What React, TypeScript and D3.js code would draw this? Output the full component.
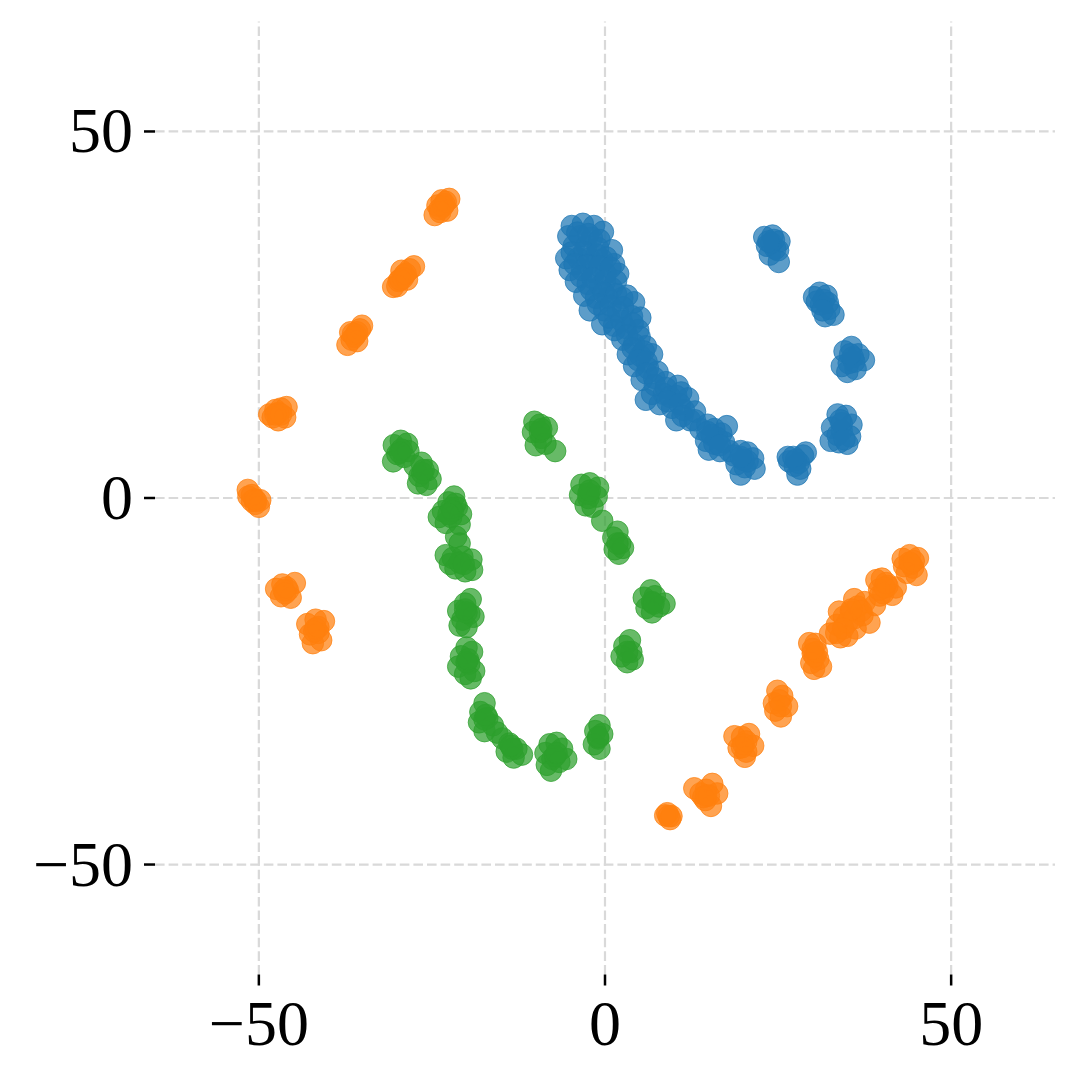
import React from "react";
import * as d3 from "d3";

// point positions (data units)
const bluePoints: [number, number][] = [
  [-4.8, 37.1], [-3.2, 37.4], [-1.6, 37.1], [-0.3, 36.3], [-5.3, 35.7], [-3.6, 35.7], [-1.9, 35.5],
  [-4.5, 34.4], [-2.7, 34.4], [-1.0, 34.1], [1.0, 33.8], [-5.6, 32.7], [-3.9, 32.7], [-2.2, 32.7],
  [-0.4, 32.5], [1.3, 31.9], [-5.1, 31.1], [-3.3, 31.1], [-1.6, 30.8], [0.1, 30.6], [1.9, 30.6],
  [-4.2, 29.5], [-2.5, 29.2], [-0.7, 28.9], [1.0, 28.6], [-3.0, 27.6], [-1.3, 27.3], [0.4, 27.3],
  [2.5, 27.3], [4.2, 26.7], [-2.2, 25.6], [-0.1, 25.6], [1.9, 25.4], [3.9, 24.8], [5.1, 24.6],
  [-0.4, 23.7], [1.3, 23.5], [3.0, 23.2], [4.8, 22.9], [1.4, 22.9], [2.5, 21.6], [4.2, 21.0],
  [5.9, 20.7], [3.3, 19.6], [5.1, 19.4], [6.8, 19.6], [4.2, 18.0], [6.2, 17.7], [5.3, 16.1],
  [7.1, 16.4], [8.8, 15.8], [10.5, 15.3], [6.8, 14.2], [8.5, 14.2], [10.3, 13.9], [12.0, 13.6],
  [7.9, 12.8], [9.7, 12.3], [11.4, 12.0], [10.3, 10.6], [12.3, 10.6], [5.9, 13.4],
  [-4.0, 36.2], [-2.4, 36.0], [-0.8, 35.2], [-4.8, 33.5], [-3.0, 33.6], [-1.2, 33.2], [0.2, 32.8],
  [-4.4, 31.9], [-2.6, 31.8], [-0.8, 31.6], [0.8, 31.4], [-3.5, 30.2], [-1.8, 30.0], [0.0, 29.6],
  [1.6, 29.6], [-2.0, 28.4], [-0.2, 28.0], [1.6, 27.8], [3.2, 27.6], [-1.0, 26.4], [0.8, 26.2],
  [2.6, 26.0], [0.6, 24.6], [2.4, 24.2], [4.0, 23.8], [3.2, 22.2], [5.0, 22.0], [4.0, 20.4],
  [5.6, 20.0], [4.8, 18.8], [6.0, 18.6], [6.0, 17.0], [7.6, 17.2], [7.2, 15.4], [8.8, 15.0],
  [9.4, 13.8], [11.0, 14.4], [9.0, 13.2], [10.8, 12.8], [11.2, 11.2], [13.0, 11.8], [13.0, 10.6],
  [13.8, 9.4], [14.8, 10.0], [15.8, 9.4], [16.8, 8.8], [14.6, 7.8], [15.8, 7.4], [17.2, 7.6],
  [18.0, 6.4], [15.0, 6.6], [16.6, 6.4], [17.6, 9.8], [15.4, 8.6], [16.2, 8.2], [14.8, 9.0], [16.6, 7.2],
  [18.6, 5.8], [19.6, 6.4], [20.6, 6.2], [21.4, 5.4], [19.0, 4.6], [20.2, 4.2], [21.6, 4.0], [19.6, 3.2],
  [20.0, 5.2], [20.6, 5.0], [19.6, 5.6],
  [26.6, 5.0], [27.4, 4.4], [28.6, 5.8], [29.0, 6.2], [27.8, 3.2], [28.2, 4.0], [26.4, 5.6],
  [27.6, 5.2], [28.0, 4.8], [27.2, 5.6],
  [33.6, 11.4], [34.8, 11.2], [35.6, 10.0], [32.8, 9.6], [34.2, 9.2], [35.4, 8.4], [32.6, 7.8],
  [33.8, 7.6], [35.0, 7.4], [34.2, 10.2], [33.6, 8.6], [34.6, 8.0], [34.0, 10.6],
  [34.6, 20.0], [35.6, 20.6], [36.6, 19.6], [37.4, 18.8], [35.2, 18.4], [36.2, 17.6], [34.2, 18.0], [35.0, 17.2],
  [35.8, 19.2], [36.0, 18.6], [35.4, 19.6],
  [30.2, 27.4], [31.0, 28.0], [32.0, 27.6], [31.2, 26.4], [32.4, 25.8], [33.0, 25.0], [31.8, 24.8], [30.6, 26.8],
  [31.6, 27.0], [32.2, 26.6], [31.4, 25.6],
  [23.0, 35.6], [24.2, 35.8], [25.2, 35.0], [23.4, 34.4], [24.6, 34.0], [23.8, 33.2], [25.0, 33.8], [25.1, 32.2],
  [24.0, 34.8], [24.4, 35.2], [23.6, 35.0],
];

const orangePoints: [number, number][] = [
  [-24.6, 38.6], [-23.9, 39.4], [-23.2, 40.1], [-22.5, 40.8], [-23.6, 40.6], [-22.8, 39.2], [-24.2, 39.9],
  [-23.4, 39.8], [-23.0, 40.4], [-23.8, 39.0],
  [-30.6, 28.8], [-29.8, 29.6], [-29.0, 30.4], [-28.2, 31.2], [-27.6, 31.6], [-29.4, 31.0], [-30.0, 28.9], [-28.6, 29.8],
  [-29.2, 30.0], [-28.8, 30.6], [-29.6, 29.8],
  [-37.2, 20.9], [-36.6, 21.6], [-36.0, 22.3], [-35.4, 23.0], [-35.1, 23.5], [-36.8, 22.6], [-35.8, 21.4],
  [-36.2, 22.0], [-36.4, 22.4], [-35.8, 22.6],
  [-48.5, 11.4], [-47.6, 12.0], [-46.8, 12.2], [-46.0, 12.4], [-47.2, 10.6], [-46.2, 11.0], [-48.0, 11.0],
  [-47.2, 11.6], [-46.8, 11.4], [-47.6, 11.4],
  [-51.6, 1.1], [-51.5, 0.2], [-51.0, -0.4], [-50.5, -0.8], [-50.0, -1.2], [-49.8, -0.3],
  [-51.0, 0.4], [-50.6, -0.2], [-50.4, -0.4],
  [-47.5, -12.4], [-46.6, -11.8], [-45.8, -12.6], [-44.8, -11.6], [-46.8, -13.4], [-45.4, -13.6],
  [-46.4, -12.6], [-46.0, -12.2], [-46.2, -13.0],
  [-43.0, -17.2], [-41.8, -16.6], [-40.6, -16.8], [-42.6, -18.6], [-41.4, -18.4], [-42.2, -19.8], [-41.0, -19.4],
  [-41.8, -17.8], [-42.0, -18.2], [-41.4, -17.6],
  [8.7, -43.3], [9.4, -43.8], [9.0, -43.0], [9.6, -43.4], [9.2, -43.4],
  [12.9, -39.6], [13.8, -40.3], [14.6, -39.8], [15.5, -39.0], [14.5, -41.2], [15.3, -42.0], [16.2, -40.3],
  [14.6, -40.6], [14.2, -40.8], [15.0, -40.6],
  [18.7, -32.5], [19.8, -32.6], [20.8, -32.2], [19.3, -34.1], [20.4, -34.6], [21.4, -33.8], [20.2, -35.3],
  [20.0, -33.6], [20.4, -33.2], [19.8, -34.0],
  [24.9, -26.3], [25.6, -27.0], [24.4, -28.0], [26.3, -28.4], [25.4, -29.8], [24.6, -29.0],
  [25.2, -27.6], [25.4, -28.4],
  [29.5, -19.8], [30.4, -19.9], [30.0, -21.2], [30.8, -22.0], [30.2, -23.3], [31.2, -23.0], [29.8, -22.5],
  [30.3, -21.6], [30.6, -21.0], [30.0, -20.6],
  [32.5, -18.5], [33.5, -17.3], [34.5, -16.2], [35.5, -15.5], [36.5, -14.8], [37.2, -16.0], [36.2, -17.8],
  [35.0, -18.8], [34.0, -19.0], [38.2, -17.0], [37.5, -14.2], [36.0, -13.8], [33.8, -15.5], [39.0, -14.6], [39.7, -13.3],
  [35.0, -17.0], [36.0, -16.4], [34.4, -17.8], [37.0, -15.4], [35.6, -15.2], [33.4, -18.4],
  [39.2, -11.2], [40.0, -11.0], [40.8, -12.0], [41.5, -13.2], [40.2, -13.0], [39.6, -12.5], [42.0, -12.2],
  [40.4, -12.2], [40.6, -11.6],
  [43.0, -8.3], [44.0, -7.8], [45.2, -8.2], [44.5, -9.5], [43.6, -10.2], [45.0, -10.5], [43.2, -9.3],
  [44.2, -9.0], [44.0, -8.8], [44.6, -8.6],
];

const greenPoints: [number, number][] = [
  [-30.5, 7.2], [-29.5, 7.8], [-28.6, 7.4], [-30.0, 6.0], [-29.0, 5.6], [-30.6, 5.0], [-28.4, 6.4],
  [-29.4, 6.6], [-29.6, 6.2],
  [-27.5, 4.4], [-26.5, 4.8], [-25.6, 3.8], [-26.8, 3.0], [-25.2, 2.6], [-27.0, 2.0], [-25.8, 1.8],
  [-26.4, 3.4], [-26.2, 3.8],
  [-21.8, 0.2], [-22.6, -0.6], [-21.4, -1.3], [-23.4, -1.8], [-22.2, -2.6], [-20.8, -2.2], [-23.0, -3.4],
  [-21.0, -3.6], [-24.0, -2.6], [-21.6, -0.8], [-21.5, -5.3], [-21.0, -6.2],
  [-22.2, -1.4], [-22.0, -1.8], [-22.6, -2.2],
  [-23.0, -7.8], [-22.0, -8.2], [-20.6, -8.0], [-19.3, -8.4], [-21.6, -9.6], [-20.2, -10.0], [-19.2, -9.8], [-22.4, -9.0],
  [-21.0, -8.8], [-20.4, -9.0],
  [-19.4, -13.8], [-20.2, -14.4], [-21.2, -15.4], [-19.6, -15.8], [-20.6, -16.6], [-19.0, -16.2], [-20.0, -17.6], [-21.0, -17.4],
  [-20.0, -15.6], [-20.2, -15.2],
  [-20.0, -20.4], [-19.2, -21.0], [-20.8, -21.6], [-19.6, -22.6], [-21.2, -23.0], [-18.9, -23.6], [-20.2, -24.0], [-19.4, -24.6],
  [-20.0, -22.4], [-19.8, -22.0],
  [-17.4, -28.0], [-18.0, -29.2], [-17.0, -30.0], [-18.2, -30.6], [-16.2, -31.0], [-17.4, -31.8], [-15.6, -32.0],
  [-17.4, -30.2], [-17.2, -29.6],
  [-14.8, -32.8], [-13.8, -33.5], [-12.8, -34.2], [-14.2, -34.6], [-12.0, -35.0], [-13.2, -35.4],
  [-13.4, -34.2], [-13.6, -33.8],
  [-8.0, -33.6], [-7.0, -33.4], [-6.2, -34.2], [-8.6, -34.8], [-7.6, -35.6], [-5.6, -35.6], [-8.4, -36.4], [-7.8, -37.2], [-6.6, -36.0],
  [-7.2, -35.2], [-7.0, -34.8],
  [-0.8, -31.0], [-1.4, -31.8], [-1.0, -32.8], [-1.6, -33.6], [-0.8, -34.2], [-0.4, -32.2], [-1.0, -32.6],
  [3.6, -19.4], [2.8, -20.2], [3.8, -21.0], [2.4, -21.6], [3.2, -22.4], [4.0, -22.0], [3.2, -21.0],
  [6.6, -12.6], [5.6, -13.6], [7.2, -13.4], [6.0, -15.0], [7.8, -14.8], [8.6, -14.4], [6.8, -15.6],
  [6.8, -14.2], [7.0, -14.4],
  [1.8, -4.6], [1.2, -5.4], [2.2, -6.2], [1.4, -7.0], [2.0, -7.6], [2.6, -6.8], [1.8, -6.2],
  [-0.4, -3.1],
  [-3.4, 1.8], [-2.2, 2.0], [-1.0, 1.4], [-3.6, 0.4], [-2.4, 0.0], [-1.2, 0.2], [-2.8, -1.0], [-1.8, -1.2],
  [-2.4, 0.6], [-2.2, 1.0],
  [-10.2, 10.4], [-9.4, 10.0], [-8.4, 9.6], [-10.4, 9.0], [-9.2, 8.2], [-10.0, 7.2], [-8.6, 7.4], [-7.2, 6.4],
  [-9.4, 9.0], [-9.2, 9.4],
];

const xTicks = [-50, 0, 50];
const yTicks = [-50, 0, 50];

const series = [
  { name: "blue", color: "#1f77b4", points: bluePoints },
  { name: "orange", color: "#ff7f0e", points: orangePoints },
  { name: "green", color: "#2ca02c", points: greenPoints },
];

const fmt = (v: number) => (v < 0 ? "\u2212" + Math.abs(v) : String(v));

export default function App() {
  const width = 1080;
  const height = 1080;
  const x = d3.scaleLinear().domain([-65, 65]).range([155, 1055]);
  const y = d3.scaleLinear().domain([-65, 65]).range([974.5, 21.5]);
  const [x0, x1] = x.range();
  const [yb, yt] = y.range();
  const font = "'Liberation Serif', 'DejaVu Serif', serif";

  return (
    <svg
      width={width}
      height={height}
      style={{ position: "absolute", left: 0, top: 0, background: "#fff" }}
    >
      <g className="grid" stroke="#d9d9d9" strokeWidth={2.2} strokeDasharray="9.6,4">
        {xTicks.map((t) => (
          <line key={"gx" + t} x1={x(t)} x2={x(t)} y1={yb} y2={yt} />
        ))}
        {yTicks.map((t) => (
          <line key={"gy" + t} x1={x0} x2={x1} y1={y(t)} y2={y(t)} />
        ))}
      </g>
      <g className="points">
        {series.map((s) =>
          s.points.map((p, i) => (
            <circle
              key={s.name + i}
              cx={x(p[0])}
              cy={y(p[1])}
              r={10.8}
              fill={s.color}
              fillOpacity={0.72}
              stroke={s.color}
              strokeOpacity={0.72}
              strokeWidth={1}
            />
          ))
        )}
      </g>
      <g className="xaxis" fontFamily={font} fontSize={64}>
        {xTicks.map((t) => (
          <g key={"xt" + t}>
            <line x1={x(t)} x2={x(t)} y1={yb} y2={yb + 11} stroke="#000" strokeWidth={2.5} />
            <text x={x(t)} y={1045} textAnchor="middle">
              {fmt(t)}
            </text>
          </g>
        ))}
      </g>
      <g className="yaxis" fontFamily={font} fontSize={64}>
        {yTicks.map((t) => (
          <g key={"yt" + t}>
            <line x1={x0 - 11} x2={x0} y1={y(t)} y2={y(t)} stroke="#000" strokeWidth={2.5} />
            <text x={133} y={y(t) + 21} textAnchor="end">
              {fmt(t)}
            </text>
          </g>
        ))}
      </g>
    </svg>
  );
}
